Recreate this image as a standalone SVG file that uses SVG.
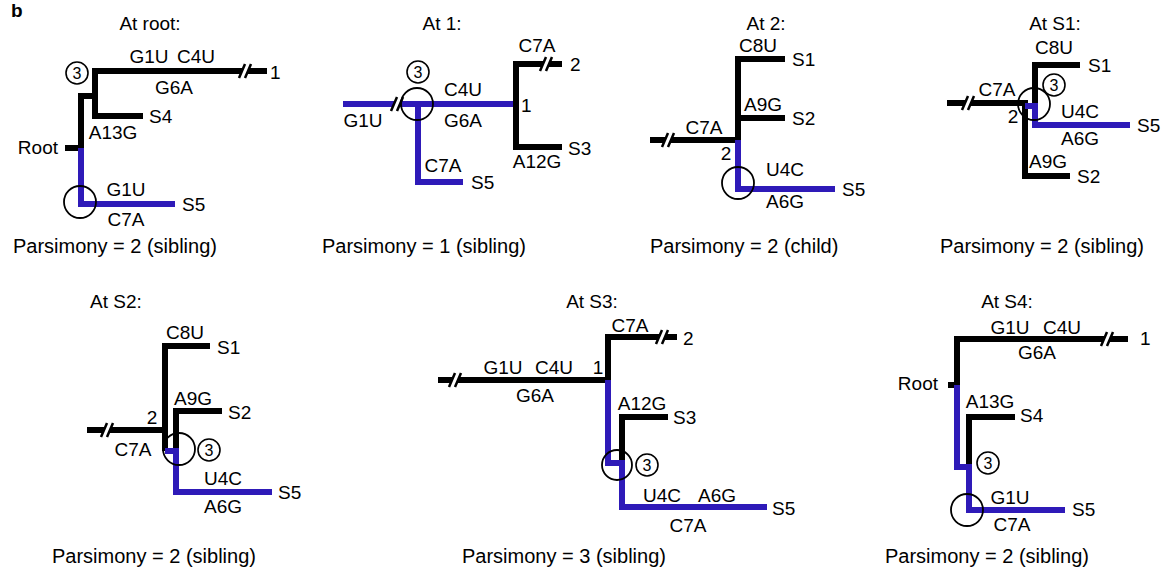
<svg xmlns="http://www.w3.org/2000/svg" width="1173" height="567" viewBox="0 0 1173 567">
<style>
text{font-family:"Liberation Sans",Arial,sans-serif;font-size:19px;fill:#000}
.m{text-anchor:middle}
.e{text-anchor:end}
.p{font-size:20px}
.c3{font-size:16px;text-anchor:middle}
.bk{fill:none;stroke:#000;stroke-width:6;stroke-linejoin:miter}
.bl{fill:none;stroke:#2e1ab8;stroke-width:6;stroke-linejoin:miter}
.sl{stroke:#000;stroke-width:2.5;fill:none}
.ring{fill:none;stroke:#000;stroke-width:1.8}
.ring3{fill:#fff;fill-opacity:0;stroke:#000;stroke-width:1.6}
</style>
<rect width="1173" height="567" fill="#fff"/>
<text x="11" y="17" style="font-weight:bold;font-size:19px">b</text>

<!-- Panel 1: At root -->
<g id="panel-root">
<g class="connectors">
<path class="bk" d="M242,71 H95 V116 H143"/>
<path class="bk" d="M248,71 H267"/>
<path class="sl" d="M239,78 L245,64 M245,78 L251,64"/>
<path class="bk" d="M95,96 H81 V148"/>
<path class="bk" d="M65,148 H84"/>
<path class="bl" d="M81,148 V204 H175"/>
</g>
<circle class="ring3" cx="77" cy="73" r="11"/><text class="c3" x="77" y="79">3</text>
<circle class="ring" cx="80" cy="202" r="16"/>
<text class="m" x="150" y="30">At root:</text>
<text class="m" x="149" y="63">G1U</text><text class="m" x="196" y="63">C4U</text>
<text class="m" x="174" y="94">G6A</text>
<text x="270" y="79">1</text>
<text x="149" y="123">S4</text>
<text class="m" x="113" y="139">A13G</text>
<text class="e" x="58" y="154">Root</text>
<text class="m" x="126" y="196">G1U</text>
<text class="m" x="126" y="226">C7A</text>
<text x="182" y="211">S5</text>
<text class="p" x="13" y="253">Parsimony = 2 (sibling)</text>
</g>

<!-- Panel 2: At 1 -->
<g id="panel-1">
<g class="connectors">
<path class="bl" d="M343,104 H394"/>
<path class="bl" d="M400,104 H516"/>
<path class="sl" d="M391,111 L397,97 M397,111 L403,97"/>
<path class="bl" d="M418,104 V182 H463"/>
<path class="bk" d="M543,64 H516 V147 H562"/>
<path class="bk" d="M549,64 H562"/>
<path class="sl" d="M540,71 L546,57 M546,71 L552,57"/>
</g>
<circle class="ring3" cx="418" cy="72" r="11"/><text class="c3" x="418" y="78">3</text>
<circle class="ring" cx="417" cy="104" r="16"/>
<text class="m" x="442" y="30">At 1:</text>
<text class="m" x="537" y="52">C7A</text>
<text x="570" y="71">2</text>
<text class="m" x="463" y="96">C4U</text>
<text class="m" x="463" y="127">G6A</text>
<text class="m" x="363" y="127">G1U</text>
<text x="521" y="112">1</text>
<text x="568" y="155">S3</text>
<text class="m" x="537" y="168">A12G</text>
<text class="m" x="443" y="172">C7A</text>
<text x="471" y="189">S5</text>
<text class="p" x="322" y="253">Parsimony = 1 (sibling)</text>
</g>

<!-- Panel 3: At 2 -->
<g id="panel-2">
<g class="connectors">
<path class="bk" d="M650,140 H665"/>
<path class="bk" d="M671,140 H738"/>
<path class="sl" d="M662,147 L668,133 M668,147 L674,133"/>
<path class="bk" d="M785,59 H738 V140"/>
<path class="bk" d="M738,118 H785"/>
<path class="bl" d="M738,140 V189 H835"/>
</g>
<circle class="ring" cx="738" cy="183" r="16"/>
<text class="m" x="766" y="30">At 2:</text>
<text class="m" x="758" y="52">C8U</text>
<text x="792" y="66">S1</text>
<text class="m" x="763" y="111">A9G</text>
<text x="792" y="125">S2</text>
<text class="m" x="704" y="134">C7A</text>
<text class="m" x="726" y="160">2</text>
<text class="m" x="785" y="176">U4C</text>
<text x="842" y="196">S5</text>
<text class="m" x="785" y="208">A6G</text>
<text class="p" x="650" y="253">Parsimony = 2 (child)</text>
</g>

<!-- Panel 4: At S1 -->
<g id="panel-s1">
<g class="connectors">
<path class="bk" d="M947,103 H965"/>
<path class="bk" d="M971,103 H1025 V176 H1070"/>
<path class="sl" d="M962,110 L968,96 M968,110 L974,96"/>
<path class="bk" d="M1080,65 H1035 V106"/>
<path class="bl" d="M1025,106 H1035 V125 H1130"/>
</g>
<circle class="ring3" cx="1054" cy="85" r="11"/><text class="c3" x="1054" y="91">3</text>
<circle class="ring" cx="1034" cy="104" r="16"/>
<text class="m" x="1055" y="30">At S1:</text>
<text class="m" x="1054" y="54">C8U</text>
<text x="1088" y="72">S1</text>
<text class="m" x="997" y="96">C7A</text>
<text class="m" x="1013" y="123">2</text>
<text class="m" x="1080" y="118">U4C</text>
<text x="1137" y="132">S5</text>
<text class="m" x="1080" y="145">A6G</text>
<text class="m" x="1048" y="168">A9G</text>
<text x="1077" y="183">S2</text>
<text class="p" x="940" y="253">Parsimony = 2 (sibling)</text>
</g>

<!-- Panel 5: At S2 -->
<g id="panel-s2">
<g class="connectors">
<path class="bk" d="M87,430 H104"/>
<path class="bk" d="M110,430 H165"/>
<path class="sl" d="M101,437 L107,423 M107,437 L113,423"/>
<path class="bk" d="M210,346 H165 V451"/>
<path class="bk" d="M222,411 H176 V451"/>
<path class="bl" d="M165,451 H176 V492 H272"/>
</g>
<circle class="ring" cx="179" cy="449" r="16"/>
<circle class="ring3" cx="209" cy="450" r="11"/><text class="c3" x="209" y="456">3</text>
<text x="90" y="308">At S2:</text>
<text class="m" x="185" y="339">C8U</text>
<text x="217" y="354">S1</text>
<text class="m" x="193" y="405">A9G</text>
<text x="228" y="419">S2</text>
<text class="m" x="152" y="424">2</text>
<text class="m" x="133" y="456">C7A</text>
<text class="m" x="223" y="485">U4C</text>
<text x="278" y="499">S5</text>
<text class="m" x="223" y="513">A6G</text>
<text class="p" x="52" y="563">Parsimony = 2 (sibling)</text>
</g>

<!-- Panel 6: At S3 -->
<g id="panel-s3">
<g class="connectors">
<path class="bk" d="M438,380 H452"/>
<path class="bk" d="M458,380 H608"/>
<path class="sl" d="M449,387 L455,373 M455,387 L461,373"/>
<path class="bk" d="M659,337 H608 V380"/>
<path class="bk" d="M665,337 H677"/>
<path class="sl" d="M656,344 L662,330 M662,344 L668,330"/>
<path class="bk" d="M668,417 H622 V463"/>
<path class="bl" d="M608,380 V463 H622 V507 H767"/>
</g>
<circle class="ring" cx="617" cy="465" r="15"/>
<circle class="ring3" cx="647" cy="465" r="11"/><text class="c3" x="647" y="471">3</text>
<text class="m" x="592" y="308">At S3:</text>
<text class="m" x="630" y="332">C7A</text>
<text x="683" y="345">2</text>
<text class="m" x="503" y="374">G1U</text>
<text class="m" x="554" y="374">C4U</text>
<text class="m" x="598" y="374">1</text>
<text class="m" x="535" y="402">G6A</text>
<text class="m" x="642" y="410">A12G</text>
<text x="673" y="424">S3</text>
<text class="m" x="662" y="502">U4C</text>
<text class="m" x="717" y="502">A6G</text>
<text x="772" y="515">S5</text>
<text class="m" x="688" y="532">C7A</text>
<text class="p" x="462" y="563">Parsimony = 3 (sibling)</text>
</g>

<!-- Panel 7: At S4 -->
<g id="panel-s4">
<g class="connectors">
<path class="bk" d="M1104,339 H957 V385"/>
<path class="bk" d="M1110,339 H1128"/>
<path class="sl" d="M1101,346 L1107,332 M1107,346 L1113,332"/>
<path class="bk" d="M948,385 H960"/>
<path class="bk" d="M1015,417 H969 V467"/>
<path class="bl" d="M957,385 V467 H969 V510 H1065"/>
</g>
<circle class="ring" cx="967" cy="510" r="16"/>
<circle class="ring3" cx="988" cy="463" r="11"/><text class="c3" x="988" y="469">3</text>
<text class="m" x="1007" y="308">At S4:</text>
<text class="m" x="1010" y="334">G1U</text>
<text class="m" x="1062" y="334">C4U</text>
<text x="1140" y="345">1</text>
<text class="m" x="1037" y="359">G6A</text>
<text class="e" x="938" y="390">Root</text>
<text class="m" x="990" y="408">A13G</text>
<text x="1020" y="422">S4</text>
<text class="m" x="1010" y="504">G1U</text>
<text x="1072" y="516">S5</text>
<text class="m" x="1012" y="531">C7A</text>
<text class="p" x="885" y="563">Parsimony = 2 (sibling)</text>
</g>
</svg>
